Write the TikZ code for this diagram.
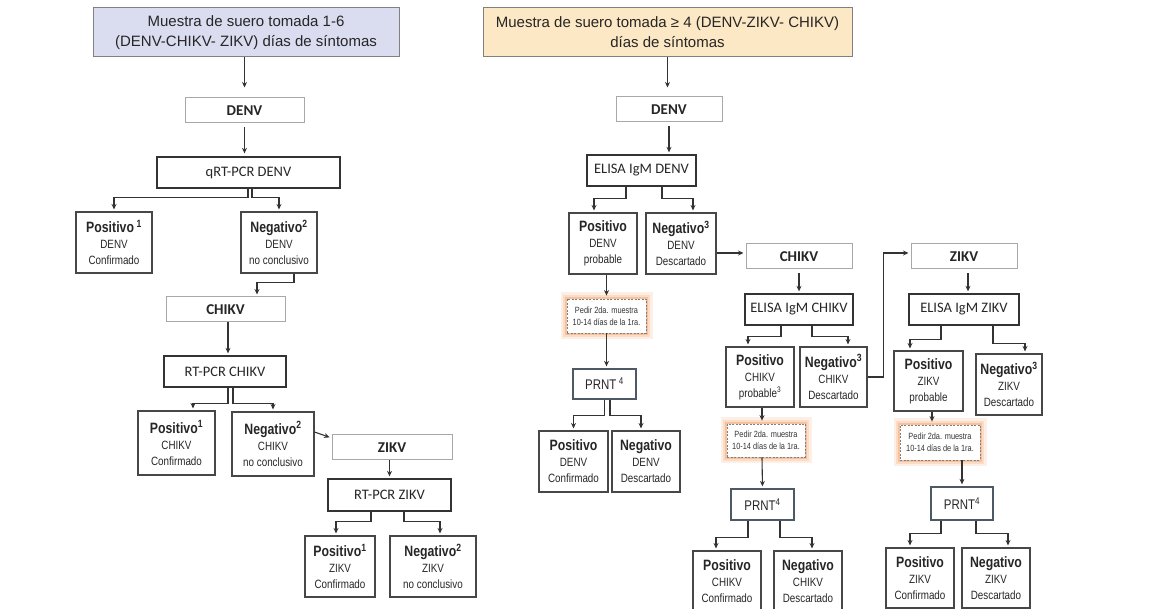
\documentclass[tikz,border=0pt]{standalone}
\usepackage{fontspec}
\setmainfont{Liberation Sans}
\newfontfamily\calib{Carlito}
\newfontfamily\narrow[FakeStretch=0.82, BoldFeatures={FakeStretch=0.82}]{Liberation Sans}
\usetikzlibrary{arrows.meta,positioning,calc}
\definecolor{hdrblue}{HTML}{DADDF0}
\definecolor{hdrsand}{HTML}{FCE8C4}
\definecolor{lineclr}{HTML}{333333}
\definecolor{lightbd}{HTML}{A8A8A8}
\definecolor{glow}{HTML}{F4B183}
\definecolor{prntbd}{HTML}{4D5A66}
\newcommand{\rtitle}[1]{{\fontsize{15}{17}\selectfont\bfseries #1}}
\tikzset{
  hdr/.style={draw=gray, line width=1pt, align=center, inner sep=0pt, text=black!85, font=\fontsize{15}{20}\selectfont},
  lab/.style={draw=lightbd, line width=1pt, fill=white, inner sep=0pt, text=black!85, font=\calib\bfseries\fontsize{15}{18}\selectfont},
  test/.style={draw=lineclr, line width=1.3pt, inner sep=0pt, text=black!85, font=\calib\fontsize{14.5}{18}\selectfont},
  res/.style={draw=lineclr!90, line width=1.1pt, align=center, inner sep=0pt, text=black!85, font=\narrow\fontsize{12}{16}\selectfont},
  ped/.style={draw=gray, dash pattern=on 2pt off 1.5pt, line width=0.8pt, fill=white, align=center, inner sep=0pt, text=black!80, font=\narrow\fontsize{9}{12}\selectfont,
    preaction={draw=glow!20, solid, line width=13pt, rounded corners=6pt},
    preaction={draw=glow!45, solid, line width=8pt, rounded corners=4pt},
    preaction={draw=glow!80, solid, line width=3.5pt, rounded corners=2pt}},
  prnt/.style={draw=prntbd, line width=1.3pt, inner sep=0pt, text=black!85, font=\narrow\fontsize{14}{16}\selectfont},
  arr/.style={->, >={Stealth[length=5.5pt,width=5pt]}, line width=1.1pt, draw=lineclr, shorten >=2pt}
}
\begin{document}
\begin{tikzpicture}[x=1pt, y=-1pt]
\useasboundingbox (0,0) rectangle (1149,609);
% 1-6 dias
\node[hdr, fill=hdrblue, minimum width=306pt, minimum height=49pt] (hdrA) at (246,32.5) {Muestra de suero tomada 1-6\\(DENV-CHIKV- ZIKV) días de síntomas};
\node[lab, minimum width=119pt, minimum height=25pt] (denvA) at (244.5,110.5) {DENV};
\node[test, minimum width=183pt, minimum height=31pt] (pcrA) at (248.5,172.5) {qRT-PCR DENV};
\node[res, minimum width=76pt, minimum height=61pt] (posA) at (114,242.5) {\rtitle{Positivo\,\textsuperscript{1}}\\DENV\\Confirmado};
\node[res, minimum width=76pt, minimum height=61pt] (negA) at (279,242.5) {\rtitle{Negativo\textsuperscript{2}}\\DENV\\no conclusivo};
\node[lab, minimum width=119pt, minimum height=25pt] (chikA) at (225.5,309.5) {CHIKV};
\node[test, minimum width=122pt, minimum height=31pt] (pcrB) at (225,371.5) {RT-PCR CHIKV};
\node[res, minimum width=77pt, minimum height=64pt] (posB) at (176.5,443) {\rtitle{Positivo\textsuperscript{1}}\\CHIKV\\Confirmado};
\node[res, minimum width=82pt, minimum height=64pt] (negB) at (273,444) {\rtitle{Negativo\textsuperscript{2}}\\CHIKV\\no conclusivo};
\node[lab, minimum width=120pt, minimum height=25pt] (zikA) at (392,447.5) {ZIKV};
\node[test, minimum width=123pt, minimum height=32pt] (pcrC) at (389.5,495) {RT-PCR ZIKV};
\node[res, minimum width=70pt, minimum height=61pt] (posC) at (340,566.5) {\rtitle{Positivo\textsuperscript{1}}\\ZIKV\\Confirmado};
\node[res, minimum width=86pt, minimum height=61pt] (negC) at (433,566.5) {\rtitle{Negativo\textsuperscript{2}}\\ZIKV\\no conclusivo};

\draw[arr, shorten >=10pt] (denvA.north |- hdrA.south) -- (denvA.north);
\draw[arr, shorten <=4pt, shorten >=3pt] (denvA.south) -- (denvA.south |- pcrA.north);
\draw[arr] ([xshift=-0.5pt]pcrA.south) -- ++(0,9) -| (posA.north);
\draw[arr] ([xshift=3.5pt]pcrA.south) -- ++(0,9) -| (negA.north);
\draw[arr] ([xshift=15pt]negA.south) -- ++(0,9) -| ([xshift=31.5pt]chikA.north);
\draw[arr] ([xshift=2.5pt]chikA.south) -- ([xshift=3pt]pcrB.north);
\draw[arr] ([xshift=3pt]pcrB.south) -- ++(0,16) -| ([xshift=16.5pt]posB.north);
\draw[arr] ([xshift=8pt]pcrB.south) -- ++(0,16) -| (negB.north);
\draw[arr] ([yshift=12pt]negB.east) -- ([yshift=9.5pt]zikA.west);
\draw[arr] (pcrC.north |- zikA.south) -- (pcrC.north);
\draw[arr] ([xshift=-18.5pt]pcrC.south) -- ++(0,10) -| ([xshift=-4pt]posC.north);
\draw[arr] ([xshift=14.5pt]pcrC.south) -- ++(0,10) -| ([xshift=7pt]negC.north);

% >= 4 dias
\node[hdr, fill=hdrsand, minimum width=369pt, minimum height=49pt] (hdrB) at (667.5,32.5) {Muestra de suero tomada ≥ 4 (DENV-ZIKV- CHIKV)\\días de síntomas};
\node[lab, minimum width=106pt, minimum height=25pt] (denvB) at (669,109.5) {DENV};
\node[test, minimum width=109pt, minimum height=31pt] (elisaA) at (641.5,170.5) {ELISA IgM DENV};
\node[res, minimum width=68pt, minimum height=61pt] (posD) at (603,243.5) {\rtitle{Positivo}\\DENV\\probable};
\node[res, minimum width=70pt, minimum height=61pt] (negD) at (681,243.5) {\rtitle{Negativo\textsuperscript{3}}\\DENV\\Descartado};
\node[ped, minimum width=79pt, minimum height=34pt] (pedA) at (606.5,316) {Pedir 2da. muestra\\10-14 días de la 1ra.};
\node[prnt, minimum width=63pt, minimum height=30pt] (prntA) at (604.5,384) {PRNT\,\textsuperscript{4}};
\node[res, minimum width=69pt, minimum height=61pt] (posE) at (573.5,461.5) {\rtitle{Positivo}\\DENV\\Confirmado};
\node[res, minimum width=68pt, minimum height=61pt] (negE) at (646,461.5) {\rtitle{Negativo}\\DENV\\Descartado};

\node[lab, minimum width=106pt, minimum height=25pt] (chikB) at (799,256.5) {CHIKV};
\node[test, minimum width=108pt, minimum height=31pt] (elisaB) at (799,309.5) {ELISA IgM CHIKV};
\node[res, minimum width=68pt, minimum height=60pt] (posF) at (760,377) {\rtitle{Positivo}\\CHIKV\\probable\textsuperscript{3}};
\node[res, minimum width=67pt, minimum height=60pt] (negF) at (833.5,377) {\rtitle{Negativo\textsuperscript{3}}\\CHIKV\\Descartado};
\node[ped, minimum width=78pt, minimum height=33pt] (pedB) at (766,440.5) {Pedir 2da. muestra\\10-14 días de la 1ra.};
\node[prnt, minimum width=63pt, minimum height=31pt] (prntB) at (762.5,504.5) {PRNT\textsuperscript{4}};
\node[res, minimum width=68pt, minimum height=61pt] (posG) at (727,581.5) {\rtitle{Positivo}\\CHIKV\\Confirmado};
\node[res, minimum width=68pt, minimum height=61pt] (negG) at (808,581.5) {\rtitle{Negativo}\\CHIKV\\Descartado};

\node[lab, minimum width=106pt, minimum height=25pt] (zikB) at (964,256.5) {ZIKV};
\node[test, minimum width=110pt, minimum height=31pt] (elisaC) at (964,309.5) {ELISA IgM ZIKV};
\node[res, minimum width=69pt, minimum height=60pt] (posH) at (928.5,381) {\rtitle{Positivo}\\ZIKV\\probable};
\node[res, minimum width=66pt, minimum height=61pt] (negH) at (1009,384.5) {\rtitle{Negativo\textsuperscript{3}}\\ZIKV\\Descartado};
\node[ped, minimum width=80pt, minimum height=35pt] (pedC) at (940,442.5) {Pedir 2da. muestra\\10-14 días de la 1ra.};
\node[prnt, minimum width=62pt, minimum height=33pt] (prntC) at (962,503.5) {PRNT\textsuperscript{4}};
\node[res, minimum width=68pt, minimum height=60pt] (posI) at (920,578) {\rtitle{Positivo}\\ZIKV\\Confirmado};
\node[res, minimum width=68pt, minimum height=60pt] (negI) at (996,578) {\rtitle{Negativo}\\ZIKV\\Descartado};

\draw[arr, shorten >=9pt] (hdrB.south) -- (hdrB.south |- denvB.north);
\draw[arr, shorten <=4pt] (denvB.south) -- (denvB.south |- elisaA.north);
\draw[arr] ([xshift=-15.5pt]elisaA.south) -- ++(0,12) -| ([xshift=-9pt]posD.north);
\draw[arr] ([xshift=20.5pt]elisaA.south) -- ++(0,12) -| ([xshift=12pt]negD.north);
\draw[arr] ([yshift=-9.5pt]negD.east) -- ([yshift=3.5pt]chikB.west);
\draw[arr, shorten >=3pt] (pedA.north |- posD.south) -- (pedA.north);
\draw[arr] (pedA.south) -- (pedA.south |- prntA.north);
\draw[arr] (prntA.south) -- ++(0,16) -| (posE.north);
\draw[arr] ([xshift=5.5pt]prntA.south) -- ++(0,16) -| ([xshift=-5pt]negE.north);

\draw[arr, shorten <=4pt] (chikB.south) -- (elisaB.north);
\draw[arr] ([xshift=-18pt]elisaB.south) -- ++(0,11) -| ([xshift=-12pt]posF.north);
\draw[arr] ([xshift=13pt]elisaB.south) -- ++(0,11) -| ([xshift=14.5pt]negF.north);
\draw[arr] (negF.east) -- ++(16,0) |- ([yshift=3.5pt]zikB.west);
\draw[arr, shorten >=3pt] ([xshift=2pt]posF.south) -- ([xshift=-4pt]pedB.north);
\draw[arr] ([xshift=-4pt]pedB.south) -- (prntB.north);
\draw[arr] ([xshift=-14.5pt]prntB.south) -- ++(0,17) -| ([xshift=-11pt]posG.north);
\draw[arr] ([xshift=17.5pt]prntB.south) -- ++(0,17) -| ([xshift=4pt]negG.north);

\draw[arr, shorten <=4pt] ([xshift=4pt]zikB.south) -- ([xshift=4pt]elisaC.north);
\draw[arr] ([xshift=-23pt]elisaC.south) -- ++(0,14) -| ([xshift=-18.5pt]posH.north);
\draw[arr] ([xshift=29pt]elisaC.south) -- ++(0,18) -| ([xshift=16pt]negH.north);
\draw[arr, shorten >=3pt] ([xshift=3.5pt]posH.south) -- ([xshift=-8pt]pedC.north);
\draw[arr] ([xshift=22pt]pedC.south) -- (prntC.north);
\draw[arr] ([xshift=-21pt]prntC.south) -- ++(0,13) -| ([xshift=-10pt]posI.north);
\draw[arr] ([xshift=14pt]prntC.south) -- ++(0,13) -| ([xshift=12pt]negI.north);
\end{tikzpicture}
\end{document}
